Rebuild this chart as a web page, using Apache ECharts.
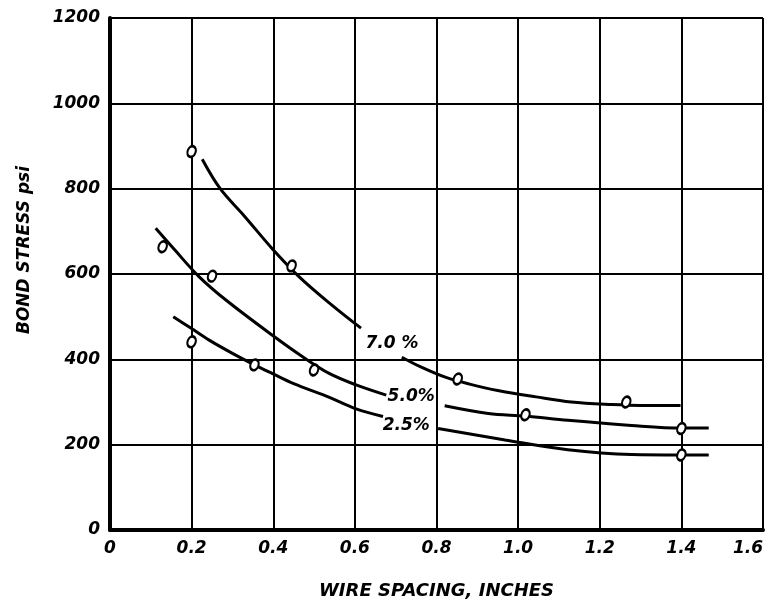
<!DOCTYPE html>
<html>
<head>
<meta charset="utf-8">
<script src="https://cdn.jsdelivr.net/npm/echarts@6/dist/echarts.min.js"></script>
<style>
html,body{margin:0;padding:0;background:#fff;overflow:hidden;}
#chart{width:774px;height:605px;}
</style>
</head>
<body>
<div id="chart"></div>
<script>
// ---- data ----
const xTickLabels = ['0','0.2','0.4','0.6','0.8','1.0','1.2','1.4','1.6'];
const yTickLabels = ['0','200','400','600','800','1000','1200'];

const curve70a = [[0.226,869],[0.27,800],[0.33,735],[0.397,660],[0.463,594],[0.54,530],[0.615,473]];
const curve70b = [[0.715,405],[0.76,383],[0.825,357],[0.881,342],[0.95,327],[1.044,312],[1.13,300],[1.23,294],[1.30,292],[1.398,292]];
const points70 = [[0.2,887],[0.445,619],[0.852,354],[1.265,300]];

const curve50a = [[0.112,707],[0.159,656],[0.218,594],[0.284,539],[0.397,457],[0.472,406],[0.537,367],[0.603,340],[0.677,316]];
const curve50b = [[0.82,291],[0.927,273],[1.018,267],[1.122,257],[1.278,245],[1.4,239],[1.467,239]];
const points50 = [[0.129,664],[0.25,595],[0.5,375],[1.018,270],[1.4,238]];

const curve25a = [[0.155,500],[0.2,472],[0.243,445],[0.30,414],[0.354,387],[0.397,367],[0.45,343],[0.53,314],[0.603,284],[0.669,266]];
const curve25b = [[0.804,238],[0.968,211],[1.122,188],[1.278,177],[1.4,176],[1.467,176]];
const points25 = [[0.2,441],[0.354,387],[1.4,176]];

const curveLabels = [[0.691,438,'7.0 %'],[0.738,312,'5.0%'],[0.726,244,'2.5%']];

const xTitle = 'WIRE SPACING, INCHES';
const yTitle = 'BOND STRESS psi';

// ---- chart ----
const FONT = 'DejaVu Sans';
const chart = echarts.init(document.getElementById('chart'), null, {renderer:'canvas', width:774, height:605});

function lineSeries(d){
  return {type:'line', data:d, smooth:0.35, showSymbol:false, symbol:'none',
    lineStyle:{color:'#000', width:3}, z:3, silent:true};
}
function pointSeries(d){
  return {type:'scatter', data:d, symbol:'circle', symbolSize:[8,11], symbolRotate:-20,
    itemStyle:{color:'#fff', borderColor:'#000', borderWidth:2.4, opacity:1}, z:5, silent:true};
}

const option = {
  backgroundColor:'#fff',
  animation:false,
  grid:{left:110, right:11, top:18, bottom:75, containLabel:false, outerBoundsMode:'none'},
  xAxis:{
    type:'value', min:0, max:1.6, interval:0.2,
    axisLine:{show:true, lineStyle:{color:'#000', width:4}},
    axisTick:{show:false},
    axisLabel:{color:'#000', fontFamily:FONT, fontStyle:'italic', fontWeight:'bold', fontSize:17, margin:10,
      alignMaxLabel:'right',
      formatter:(v)=>xTickLabels[Math.round(v/0.2)]},
    splitLine:{show:true, lineStyle:{color:'#000', width:2}},
    name:xTitle, nameLocation:'middle', nameGap:52,
    nameTextStyle:{color:'#000', fontFamily:FONT, fontStyle:'italic', fontWeight:'bold', fontSize:18}
  },
  yAxis:{
    type:'value', min:0, max:1200, interval:200,
    axisLine:{show:true, lineStyle:{color:'#000', width:4}},
    axisTick:{show:false},
    axisLabel:{color:'#000', fontFamily:FONT, fontStyle:'italic', fontWeight:'bold', fontSize:17, margin:10,
      formatter:(v)=>yTickLabels[Math.round(v/200)]},
    splitLine:{show:true, lineStyle:{color:'#000', width:2}}
  },
  graphic:[{
    type:'text', x:25, y:250, rotation:Math.PI/2,
    style:{text:yTitle, fill:'#000', font:'italic bold 17px "DejaVu Sans"', textAlign:'center', textVerticalAlign:'middle'}
  }],
  series:[
    lineSeries(curve70a), lineSeries(curve70b),
    lineSeries(curve50a), lineSeries(curve50b),
    lineSeries(curve25a), lineSeries(curve25b),
    pointSeries(points70), pointSeries(points50), pointSeries(points25),
    {type:'scatter', data:curveLabels.map(c=>({value:[c[0],c[1]], name:c[2]})), symbol:'rect', symbolSize:1,
      itemStyle:{color:'#fff', opacity:1}, z:6, silent:true,
      label:{show:true, position:'inside', formatter:(p)=>p.name, color:'#000', opacity:1, fontFamily:FONT, fontStyle:'italic', fontWeight:'bold', fontSize:17}}
  ]
};
chart.setOption(option);
</script>
</body>
</html>
